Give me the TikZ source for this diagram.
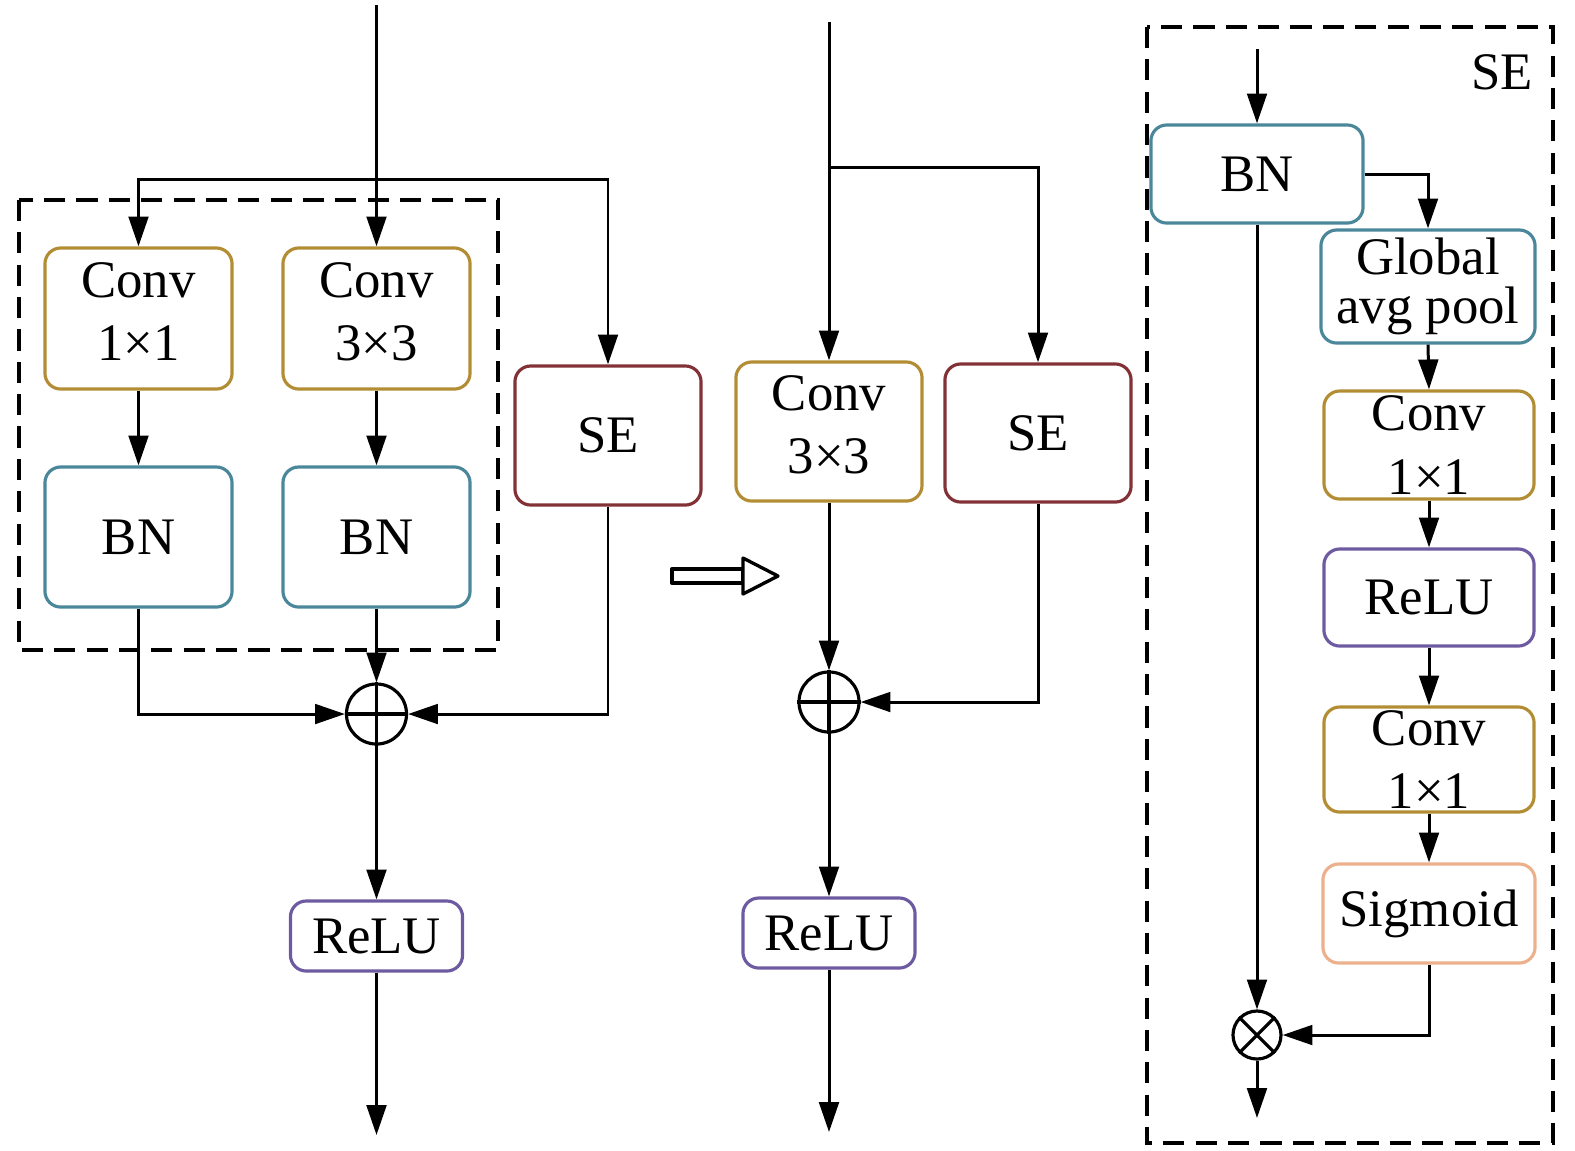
\documentclass[tikz,border=0pt]{standalone}
\usepackage{fontspec}
\setmainfont{Liberation Serif}
\usetikzlibrary{arrows.meta}
\definecolor{cgold}{RGB}{179,141,52}
\definecolor{cblue}{RGB}{75,135,155}
\definecolor{cred}{RGB}{130,50,55}
\definecolor{cpurp}{RGB}{110,90,160}
\definecolor{cpeach}{RGB}{237,176,140}
\tikzset{
  blk/.style={draw, rounded corners=4.5pt, line width=0.9pt, inner sep=0pt, align=center,
    font=\fontsize{15}{18}\selectfont},
  blkt/.style={blk, label={[align=center, font=\fontsize{15}{18}\selectfont, inner sep=0pt, yshift=2pt]center:#1}},
  conn/.style={line width=0.85pt},
  arr/.style={conn, -{Triangle[length=8.5pt,width=5.6pt]}},
  dbox/.style={line width=0.9pt, dash pattern=on 6pt off 3.2pt},
  sumnode/.style={circle, draw, line width=0.9pt, inner sep=0pt}
}
\begin{document}
\begin{tikzpicture}[x=0.01cm,y=-0.01cm]
\useasboundingbox (0,0) rectangle (1575,1150);

% ---------- left block ----------
\draw[dbox] (19,200) rectangle (498,650);
\node[blkt={Conv\\1×1}, draw=cgold, minimum width=1.87cm, minimum height=1.41cm] (c1) at (138.5,318.5) {};
\node[blkt={Conv\\3×3}, draw=cgold, minimum width=1.87cm, minimum height=1.41cm] (c3) at (376.5,318.5) {};
\node[blk, draw=cblue, minimum width=1.87cm, minimum height=1.40cm] (bn1) at (138.5,537) {BN};
\node[blk, draw=cblue, minimum width=1.87cm, minimum height=1.40cm] (bn2) at (376.5,537) {BN};
\node[blk, draw=cred, minimum width=1.86cm, minimum height=1.39cm] (se1) at (608,435.5) {SE};
\node[sumnode, minimum size=0.6cm] (p1) at (376.5,714) {};
\draw[line width=0.9pt] (p1.north) -- (p1.south) (p1.west) -- (p1.east);
\node[blk, draw=cpurp, minimum width=1.72cm, minimum height=0.70cm] (r1) at (376.5,936) {ReLU};
\coordinate (in1) at (376.5,5);
\coordinate (sp1) at (376.5,179);
\coordinate (out1) at (376.5,1135);

\draw[arr] (in1) -- (c3.north);
\draw[arr] (sp1) -| (c1.north);
\draw[arr] (sp1) -| (se1.north);
\draw[arr] (c1.south) -- (bn1.north);
\draw[arr] (c3.south) -- (bn2.north);
\draw[arr] (bn1.south) |- (p1.west);
\draw[arr] (bn2.south) -- (p1.north);
\draw[arr] (se1.south) |- (p1.east);
\draw[arr] (p1.south) -- (r1.north);
\draw[arr] (r1.south) -- (out1);

% ---------- hollow arrow ----------
\draw[line width=0.95pt, line join=round] (672,569) rectangle (743,583);
\draw[line width=0.95pt, line join=round, fill=white] (743,558) -- (778,576) -- (743,594) -- cycle;

% ---------- middle block ----------
\node[blkt={Conv\\3×3}, draw=cgold, minimum width=1.86cm, minimum height=1.39cm] (c33) at (829,431.5) {};
\node[blk, draw=cred, minimum width=1.86cm, minimum height=1.38cm] (se2) at (1038,433) {SE};
\node[sumnode, minimum size=0.6cm] (p2) at (829,702) {};
\draw[line width=0.9pt] (p2.north) -- (p2.south) (p2.west) -- (p2.east);
\node[blk, draw=cpurp, minimum width=1.72cm, minimum height=0.70cm] (r2) at (829,933) {ReLU};
\coordinate (in2) at (829,22);
\coordinate (sp2) at (829,167);
\coordinate (out2) at (829,1132);

\draw[arr] (in2) -- (c33.north);
\draw[arr] (sp2) -| (se2.north);
\draw[arr] (c33.south) -- (p2.north);
\draw[arr] (se2.south) |- (p2.east);
\draw[arr] (p2.south) -- (r2.north);
\draw[arr] (r2.south) -- (out2);

% ---------- SE detail ----------
\draw[dbox] (1147,27) rectangle (1553,1143);
\node[font=\fontsize{15}{18}\selectfont, inner sep=0pt] (selab) at (1502,72) {SE};
\node[blk, draw=cblue, minimum width=2.12cm, minimum height=0.98cm] (bn3) at (1257,174) {BN};
\node[blk, draw=cblue, minimum width=2.14cm, minimum height=1.13cm, font=\fontsize{15}{14}\selectfont] (gap) at (1428,286.5) {Global\\avg pool};
\node[blk, draw=cgold, minimum width=2.10cm, minimum height=1.08cm] (cr1) at (1429,445) {Conv\\1×1};
\node[blk, draw=cpurp, minimum width=2.10cm, minimum height=0.97cm] (r3) at (1429,597.5) {ReLU};
\node[blk, draw=cgold, minimum width=2.10cm, minimum height=1.05cm] (cr2) at (1429,759.5) {Conv\\1×1};
\node[blk, draw=cpeach, minimum width=2.12cm, minimum height=0.99cm] (sig) at (1429,913.5) {Sigmoid};
\node[sumnode, minimum size=0.48cm] (tm) at (1257,1035) {};
\draw[line width=0.9pt] (tm.north west) -- (tm.south east) (tm.north east) -- (tm.south west);
\coordinate (in3) at (1257,49);
\coordinate (out3) at (1257,1118);

\draw[arr] (in3) -- (bn3.north);
\draw[arr] (bn3.east) -| (gap.north);
\draw[arr] (gap.south) -- (cr1.north);
\draw[arr] (cr1.south) -- (r3.north);
\draw[arr] (r3.south) -- (cr2.north);
\draw[arr] (cr2.south) -- (sig.north);
\draw[arr] (bn3.south) -- (tm.north);
\draw[arr] (sig.south) |- (tm.east);
\draw[arr] (tm.south) -- (out3);
\end{tikzpicture}
\end{document}
